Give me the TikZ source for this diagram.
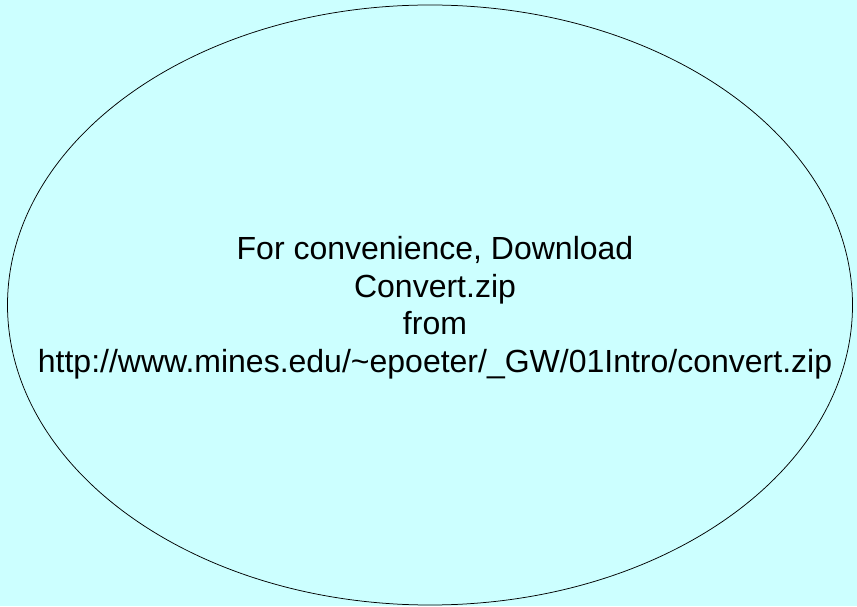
\documentclass[tikz,border=0pt]{standalone}
\usepackage{fontspec}
\setmainfont{Liberation Sans}
\usetikzlibrary{positioning, shapes.geometric}

\definecolor{slidebg}{RGB}{204,255,255}

\begin{document}
\begin{tikzpicture}[
        x=1pt, y=1pt,
        oval/.style={ellipse, draw=black, line width=0.75pt, inner sep=0pt,
                     minimum width=845pt, minimum height=600pt},
        note/.style={align=center, inner sep=0pt, text=black,
                     font=\fontsize{32}{37.5}\selectfont},
    ]
        % page background
        \fill[slidebg] (0,0) rectangle (857,606);
        \useasboundingbox (0,0) rectangle (857,606);

        % outline
        \node[oval] (blob) at (430,301) {};

        % download hint (base = last line)
        \node[note, anchor=base] (hint) at (435,233.5)
            {For convenience, Download\\
             Convert.zip\\
             from\\
             http://www.mines.edu/\textasciitilde epoeter/\_GW/01Intro/convert.zip};
    \end{tikzpicture}
\end{document}
